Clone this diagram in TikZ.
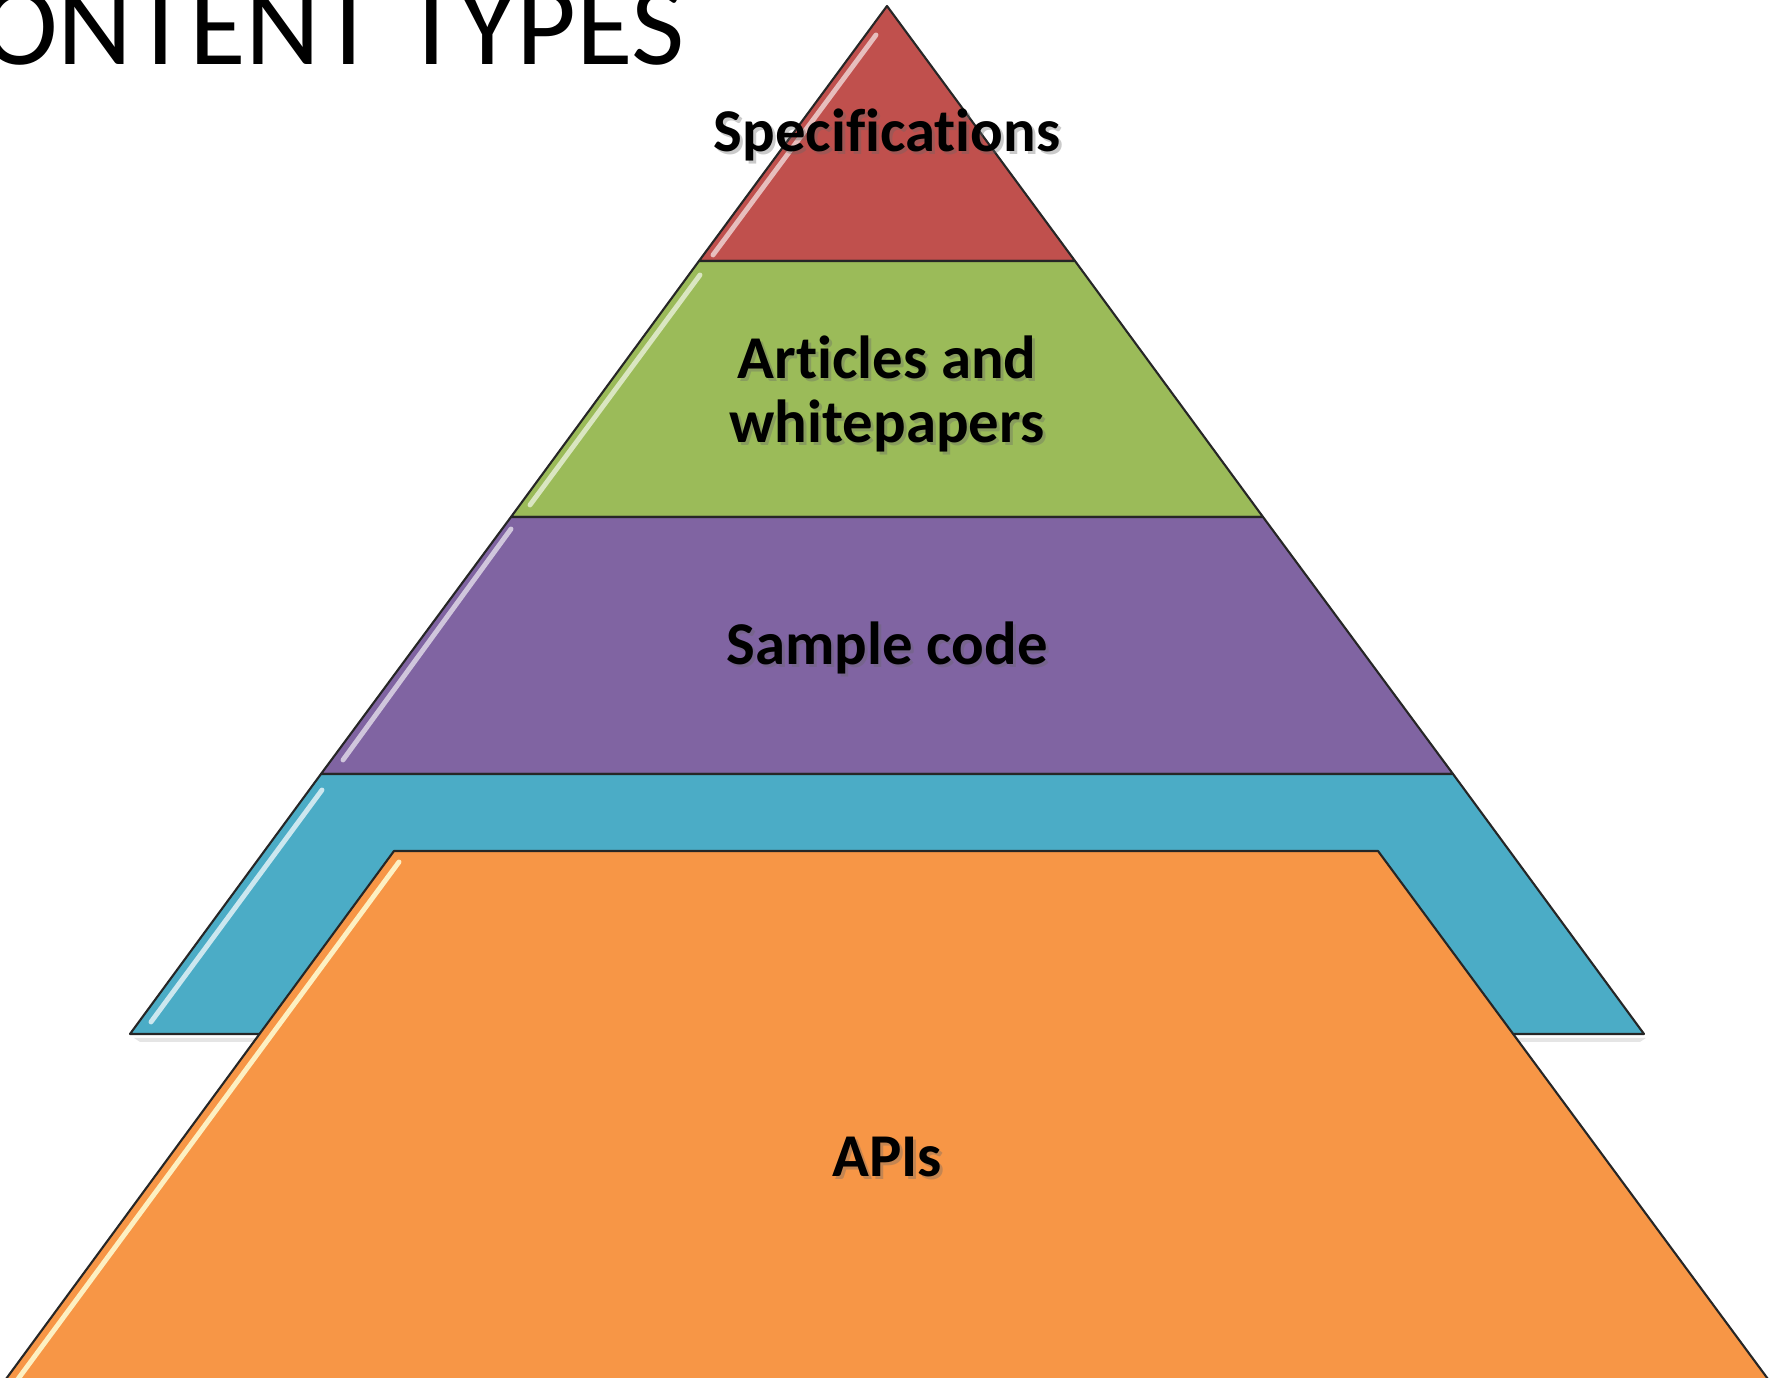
\documentclass[tikz,border=0pt]{standalone}
\usepackage{fontspec}
\setmainfont{Carlito}[Ligatures=NoCommon]
\usepackage{tikz}
\usetikzlibrary{calc}

\definecolor{specred}{HTML}{C0504D}
\definecolor{artgreen}{HTML}{9BBB59}
\definecolor{samplepurple}{HTML}{8064A2}
\definecolor{gapblue}{HTML}{4BACC6}
\definecolor{apiorange}{HTML}{F79646}

\tikzset{
    layer/.style={draw=black!85, line width=0.6pt, line join=round},
    gloss/.style={line width=1.4pt, line cap=round, opacity=0.9},
    lbl/.style={font=\fontsize{17.3}{19}\selectfont\bfseries, anchor=base, inner sep=0pt},
    lblshadow/.style={lbl, text=black!60, opacity=0.35}
}

\begin{document}
\begin{tikzpicture}
    \useasboundingbox (0,0) rectangle (17.83,13.78);
    \clip (0,0) rectangle (17.83,13.78);

    % title, cut off by the page edge
    \node[anchor=base east, inner sep=0pt, font=\fontsize{33}{36}\selectfont] (title) at (6.86,13.13) {CONTENT TYPES};

    % layers of the pyramid
    \draw[layer, fill=specred] (8.87,13.72) -- (10.75,11.17) -- (6.99,11.17) -- cycle;
    \draw[layer, fill=artgreen] (6.99,11.17) -- (10.75,11.17) -- (12.63,8.61) -- (5.11,8.61) -- cycle;
    \draw[layer, fill=samplepurple] (5.11,8.61) -- (12.63,8.61) -- (14.53,6.04) -- (3.21,6.04) -- cycle;
    \fill[black!20, opacity=0.5] (1.34,3.40) -- (16.46,3.40) -- (16.40,3.36) -- (1.40,3.36) -- cycle;
    \draw[layer, fill=gapblue] (3.21,6.04) -- (14.53,6.04) -- (16.44,3.44) -- (1.30,3.44) -- cycle;
    \draw[layer, fill=apiorange] (3.94,5.27) -- (13.78,5.27) -- (17.79,-0.16) -- (-0.05,-0.16) -- cycle;

    % glossy edges
    \draw[gloss, specred!30!white] (8.76,13.43) -- (7.13,11.23);
    \draw[gloss, artgreen!30!white] (7.00,11.03) -- (5.30,8.73);
    \draw[gloss, samplepurple!30!white] (5.11,8.49) -- (3.43,6.18);
    \draw[gloss, gapblue!20!white] (3.22,5.88) -- (1.51,3.56);
    \draw[gloss, apiorange!25!yellow!20!white] (3.99,5.16) -- (0.07,-0.16);

    % labels
    \node[lblshadow] at (8.90,12.23) {Specifications};
    \node[lbl] (spec) at (8.87,12.26) {Specifications};
    \node[lblshadow] at (8.90,9.96) {Articles and};
    \node[lbl] (art) at (8.87,9.99) {Articles and};
    \node[lblshadow] at (8.90,9.32) {whitepapers};
    \node[lbl] (white) at (8.87,9.35) {whitepapers};
    \node[lblshadow] at (8.90,7.10) {Sample code};
    \node[lbl] (sample) at (8.87,7.13) {Sample code};
    \node[lblshadow] at (8.90,1.98) {APIs};
    \node[lbl] (apis) at (8.87,2.01) {APIs};
\end{tikzpicture}
\end{document}
